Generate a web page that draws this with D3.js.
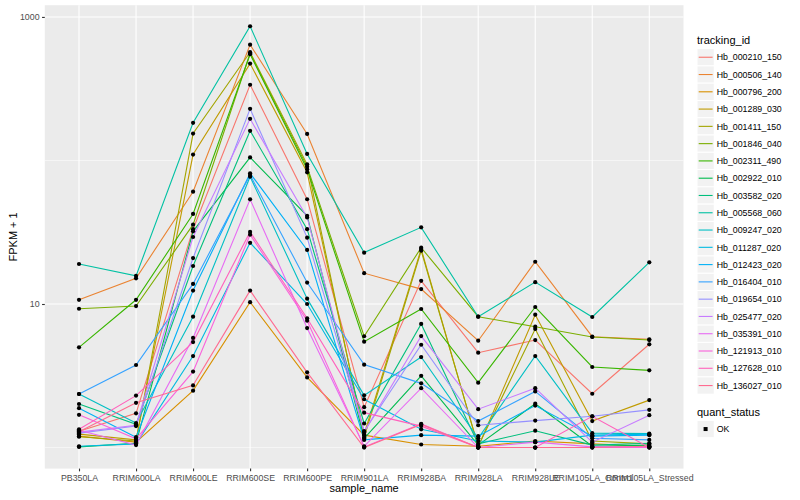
<!DOCTYPE html>
<html>
<head>
<meta charset="UTF-8">
<title>FPKM by sample</title>
<script src="https://d3js.org/d3.v7.min.js"></script>
<style>
  body { margin: 0; background: #fff; font-family: "Liberation Sans", Arial, Helvetica, sans-serif; }
  .tick-label { font-size: 8.8px; fill: #4d4d4d; }
  .axis-title { font-size: 11px; fill: #000; }
  .legend-title { font-size: 11px; fill: #000; }
  .legend-label { font-size: 8.8px; fill: #000; }
</style>
</head>
<body>
<svg width="800" height="500"></svg>
<script>
// categories (x axis)
const samples = ["PB350LA", "RRIM600LA", "RRIM600LE", "RRIM600SE", "RRIM600PE", "RRIM901LA",
                 "RRIM928BA", "RRIM928LA", "RRIM928LE", "RRIM105LA_Control", "RRIM105LA_Stressed"];

const trackingIds = ["Hb_000210_150", "Hb_000506_140", "Hb_000796_200", "Hb_001289_030", "Hb_001411_150",
                     "Hb_001846_040", "Hb_002311_490", "Hb_002922_010", "Hb_003582_020", "Hb_005568_060",
                     "Hb_009247_020", "Hb_011287_020", "Hb_012423_020", "Hb_016404_010", "Hb_019654_010",
                     "Hb_025477_020", "Hb_035391_010", "Hb_121913_010", "Hb_127628_010", "Hb_136027_010"];

// ggplot hue palette, 20 levels
const colors = ["#F8766D", "#EA8331", "#D89000", "#C09B00", "#A3A500", "#7CAE00", "#39B600", "#00BB4E",
                "#00BF7D", "#00C1A3", "#00BFC4", "#00BAE0", "#00B0F6", "#35A2FF", "#9590FF", "#C77CFF",
                "#E76BF3", "#FA62DB", "#FF62BC", "#FF6C91"];

// FPKM + 1, one row per tracking_id, one value per sample
const fpkm = [
  [1.30, 1.73, 33.2, 337, 53.7, 1.91, 14.5, 4.58, 5.61, 2.37, 5.24],
  [10.7, 15.1, 60.6, 641, 153, 16.4, 12.7, 5.55, 19.7, 5.92, 5.68],
  [1.20, 1.09, 2.49, 10.3, 3.08, 1.22, 1.05, 1.02, 1.11, 1.06, 1.02],
  [1.24, 1.13, 110, 473, 82.7, 1.24, 24.2, 1.01, 8.42, 1.53, 2.14],
  [1.19, 1.11, 154, 568, 94.0, 1.18, 23.5, 1.02, 6.70, 1.11, 1.06],
  [9.27, 9.68, 35.7, 558, 90.5, 5.96, 24.7, 8.16, 6.95, 5.89, 5.61],
  [4.99, 10.7, 42.4, 550, 86.8, 5.46, 9.23, 2.83, 9.53, 3.64, 3.45],
  [1.01, 1.07, 32.1, 105, 41.2, 1.16, 3.16, 1.04, 2.02, 1.02, 1.04],
  [2.01, 1.45, 18.4, 161, 33.2, 1.47, 7.26, 1.06, 1.31, 1.04, 1.07],
  [19.0, 15.7, 183, 861, 111, 22.8, 34.2, 8.16, 14.2, 8.12, 19.5],
  [2.36, 1.48, 8.16, 77.1, 10.9, 2.31, 4.27, 1.16, 4.34, 1.26, 1.25],
  [1.02, 1.06, 4.34, 26.7, 10.0, 2.17, 1.34, 1.11, 1.09, 1.22, 1.24],
  [1.88, 1.18, 12.4, 81.4, 23.8, 1.13, 1.22, 1.20, 1.96, 1.20, 1.22],
  [2.36, 3.76, 13.8, 79.2, 14.1, 3.78, 2.80, 1.53, 2.46, 1.16, 1.13],
  [1.26, 1.41, 20.9, 229, 29.0, 1.30, 5.20, 1.43, 1.54, 1.65, 1.83],
  [1.28, 1.43, 29.3, 195, 40.1, 1.28, 5.98, 1.85, 2.59, 1.09, 1.68],
  [1.32, 1.04, 5.80, 53.6, 6.80, 1.02, 2.59, 1.00, 1.09, 1.01, 1.01],
  [1.69, 1.15, 3.38, 30.4, 7.65, 1.01, 1.46, 1.00, 1.00, 1.00, 1.00],
  [1.34, 2.30, 5.43, 31.8, 7.95, 1.75, 1.41, 1.00, 1.00, 1.65, 1.00],
  [1.29, 2.05, 2.71, 12.4, 3.34, 1.00, 1.45, 1.00, 1.00, 1.00, 1.02]
];

const yBreaks = [10, 1000];
const yMinorBreaks = [1, 100];

const svg = d3.select("svg");
const panel = {left: 44.8, right: 683.5, top: 5.2, bottom: 468.6};

// x: discrete, ggplot-style 0.6 unit expansion
const x = d3.scalePoint()
    .domain(samples)
    .range([panel.left, panel.right])
    .padding(0.6);

// y: log10 with 5% expansion in log space
const allVals = fpkm.flat();
const lo = Math.log10(d3.min(allVals)), hi = Math.log10(d3.max(allVals));
const pad = (hi - lo) * 0.05;
const y = d3.scaleLog()
    .domain([Math.pow(10, lo - pad), Math.pow(10, hi + pad)])
    .range([panel.bottom, panel.top]);

// panel background
svg.append("rect")
    .attr("x", panel.left).attr("y", panel.top)
    .attr("width", panel.right - panel.left).attr("height", panel.bottom - panel.top)
    .attr("fill", "#ebebeb");

const grid = svg.append("g");
grid.selectAll(".minor-y").data(yMinorBreaks).enter().append("line")
    .attr("x1", panel.left).attr("x2", panel.right)
    .attr("y1", d => y(d)).attr("y2", d => y(d))
    .attr("stroke", "#fff").attr("stroke-width", 0.55);
grid.selectAll(".major-y").data(yBreaks).enter().append("line")
    .attr("x1", panel.left).attr("x2", panel.right)
    .attr("y1", d => y(d)).attr("y2", d => y(d))
    .attr("stroke", "#fff").attr("stroke-width", 1.1);
grid.selectAll(".major-x").data(samples).enter().append("line")
    .attr("x1", d => x(d)).attr("x2", d => x(d))
    .attr("y1", panel.top).attr("y2", panel.bottom)
    .attr("stroke", "#fff").attr("stroke-width", 1.1);

// lines
const line = d3.line()
    .x((d, i) => x(samples[i]))
    .y(d => y(d));

svg.append("g").selectAll("path")
    .data(fpkm)
    .enter().append("path")
    .attr("d", d => line(d))
    .attr("fill", "none")
    .attr("stroke", (d, i) => colors[i])
    .attr("stroke-width", 1.1);

// points
const pts = [];
fpkm.forEach(row => row.forEach((v, i) => pts.push({s: samples[i], v: v})));
svg.append("g").selectAll("circle")
    .data(pts)
    .enter().append("circle")
    .attr("cx", d => x(d.s))
    .attr("cy", d => y(d.v))
    .attr("r", 2.1)
    .attr("fill", "#000");

// axes
const axisX = svg.append("g").attr("transform", `translate(0,${panel.bottom})`)
    .call(d3.axisBottom(x).tickSize(2.75).tickPadding(3));
const axisY = svg.append("g").attr("transform", `translate(${panel.left},0)`)
    .call(d3.axisLeft(y).tickValues(yBreaks).tickFormat(d3.format("d")).tickSize(2.75).tickPadding(2.5));
[axisX, axisY].forEach(a => {
  a.select(".domain").remove();
  a.selectAll(".tick line").attr("stroke", "#333").attr("stroke-width", 1.1);
  a.selectAll(".tick text").attr("class", "tick-label").attr("font-family", null).attr("font-size", null);
});
axisY.attr("font-size", null).attr("font-family", null);
axisX.attr("font-size", null).attr("font-family", null);

svg.append("text").attr("class", "axis-title")
    .attr("x", (panel.left + panel.right) / 2).attr("y", 492)
    .attr("text-anchor", "middle").text("sample_name");
svg.append("text").attr("class", "axis-title")
    .attr("transform", `translate(17,${(panel.top + panel.bottom) / 2}) rotate(-90)`)
    .attr("text-anchor", "middle").text("FPKM + 1");

// legend
const lg = svg.append("g").attr("transform", "translate(697,0)");
lg.append("text").attr("class", "legend-title").attr("x", 0).attr("y", 44).text("tracking_id");
const keyH = 17.28, keyTop = 48.6;
const item = lg.selectAll(".item").data(trackingIds).enter().append("g")
    .attr("transform", (d, i) => `translate(0,${keyTop + i * keyH})`);
item.append("rect").attr("width", 17.28).attr("height", keyH)
    .attr("fill", "#f2f2f2").attr("stroke", "#fff").attr("stroke-width", 1);
item.append("line").attr("x1", 1.7).attr("x2", 15.6)
    .attr("y1", keyH / 2).attr("y2", keyH / 2)
    .attr("stroke", (d, i) => colors[i]).attr("stroke-width", 1.1);
item.append("text").attr("class", "legend-label")
    .attr("x", 19.7).attr("y", keyH / 2 + 3.2).text(d => d);

lg.append("text").attr("class", "legend-title").attr("x", 0).attr("y", 416).text("quant_status");
const ok = lg.append("g").attr("transform", "translate(0,420.4)");
ok.append("rect").attr("width", 17.28).attr("height", keyH)
    .attr("fill", "#f2f2f2").attr("stroke", "#fff");
ok.append("rect").attr("x", 6.6).attr("y", keyH / 2 - 2).attr("width", 4).attr("height", 4).attr("fill", "#000");
ok.append("text").attr("class", "legend-label").attr("x", 19.7).attr("y", keyH / 2 + 3.2).text("OK");
</script>
</body>
</html>
